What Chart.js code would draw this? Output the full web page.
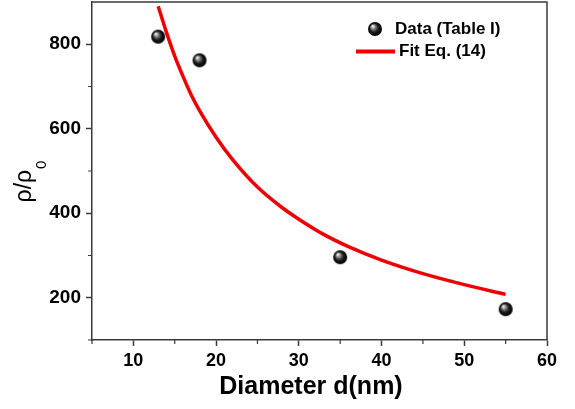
<!DOCTYPE html>
<html lang="en">
<head>
  <meta charset="UTF-8" />
  <title>Resistivity ratio vs diameter</title>
  <script src="https://cdn.jsdelivr.net/npm/chart.js"></script>
  <style>
    html, body {
      margin: 0;
      padding: 0;
      background: #ffffff;
    }
    canvas {
      display: block;
    }
  </style>
</head>
<body>
  <canvas id="fitChart" width="575" height="409"></canvas>

  <script>
    // measured points (Table I)
    const dataD = [13, 18, 35, 55];
    const dataRatio = [818, 762, 296, 173];

    // fitted curve, Eq. (14)
    const fitD = [13, 14, 15, 16, 17, 18, 20, 22, 25, 28, 30, 33, 36, 40, 45, 50, 55];
    const fitRatio = [890, 828, 772, 724, 680, 643, 580, 527, 462, 413, 386, 350, 321, 289, 257, 231, 208];

    const xTicks = [10, 20, 30, 40, 50, 60];
    const yTicks = [200, 400, 600, 800];

    const FONT = '"Liberation Sans", Arial, sans-serif';
    const AXIS = '#3a3a3a';

    // shaded black ball used for the data markers
    function makeBall(r) {
      const c = document.createElement('canvas');
      c.width = c.height = r * 2 + 2;
      const g = c.getContext('2d');
      const cx = r + 1, cy = r + 1;
      const grad = g.createRadialGradient(cx - r * 0.35, cy - r * 0.4, 0.5, cx, cy, r);
      grad.addColorStop(0, '#f4f4f4');
      grad.addColorStop(0.25, '#8a8a8a');
      grad.addColorStop(0.6, '#1a1a1a');
      grad.addColorStop(1, '#000000');
      g.fillStyle = grad;
      g.beginPath();
      g.arc(cx, cy, r, 0, Math.PI * 2);
      g.fill();
      return c;
    }
    const ball = makeBall(7);

    // frame, minor ticks, axis titles and legend
    const decorations = {
      id: 'decorations',
      afterDraw(chart) {
        const { ctx, chartArea: a, scales: { x, y } } = chart;
        ctx.save();
        ctx.strokeStyle = AXIS;
        ctx.lineWidth = 1.5;
        ctx.beginPath();
        ctx.moveTo(a.left, a.top);
        ctx.lineTo(a.right, a.top);
        ctx.lineTo(a.right, a.bottom);
        ctx.stroke();

        // minor ticks
        ctx.lineWidth = 1.2;
        ctx.beginPath();
        for (let v = 5; v <= 55; v += 10) {
          const px = x.getPixelForValue(v);
          ctx.moveTo(px, a.bottom);
          ctx.lineTo(px, a.bottom + 4);
        }
        for (let v = 100; v <= 700; v += 200) {
          const py = y.getPixelForValue(v);
          ctx.moveTo(a.left, py);
          ctx.lineTo(a.left - 4, py);
        }
        ctx.stroke();

        // x title
        ctx.fillStyle = '#000';
        ctx.font = 'bold 25px ' + FONT;
        ctx.textAlign = 'center';
        ctx.textBaseline = 'middle';
        ctx.fillText('Diameter d(nm)', 311, 387);

        // y title with subscript
        ctx.translate(31, 182);
        ctx.rotate(-Math.PI / 2);
        ctx.textBaseline = 'alphabetic';
        ctx.textAlign = 'left';
        ctx.font = '23px ' + FONT;
        const main = 'ρ/ρ';
        const wMain = ctx.measureText(main).width;
        ctx.font = '15px ' + FONT;
        const wSub = ctx.measureText('0').width;
        const x0 = -(wMain + wSub) / 2;
        ctx.font = '23px ' + FONT;
        ctx.fillText(main, x0, 0);
        ctx.font = '15px ' + FONT;
        ctx.fillText('0', x0 + wMain + 1, 15);
        ctx.restore();

        // legend
        ctx.save();
        ctx.drawImage(ball, 375 - 8, 29 - 8);
        ctx.strokeStyle = '#ee0000';
        ctx.lineWidth = 4;
        ctx.beginPath();
        ctx.moveTo(356, 51.5);
        ctx.lineTo(395, 51.5);
        ctx.stroke();
        ctx.fillStyle = '#000';
        ctx.font = 'bold 17px ' + FONT;
        ctx.textBaseline = 'middle';
        ctx.textAlign = 'left';
        ctx.fillText('Data (Table I)', 395, 29);
        ctx.fillText('Fit Eq. (14)', 399, 51);
        ctx.restore();
      }
    };

    new Chart(document.getElementById('fitChart').getContext('2d'), {
      type: 'scatter',
      data: {
        datasets: [
          {
            label: 'Fit Eq. (14)',
            data: fitD.map((d, i) => ({ x: d, y: fitRatio[i] })),
            showLine: true,
            borderColor: '#ee0000',
            borderWidth: 3.5,
            pointRadius: 0,
            cubicInterpolationMode: 'monotone',
            order: 2
          },
          {
            label: 'Data (Table I)',
            data: dataD.map((d, i) => ({ x: d, y: dataRatio[i] })),
            pointStyle: ball,
            pointRadius: 7,
            order: 1
          }
        ]
      },
      options: {
        responsive: false,
        animation: false,
        devicePixelRatio: 1,
        layout: { autoPadding: false, padding: { top: 2, right: 28, left: 0, bottom: 0 } },
        plugins: {
          legend: { display: false },
          tooltip: { enabled: false }
        },
        scales: {
          x: {
            type: 'linear',
            min: 5,
            max: 60,
            afterBuildTicks: s => { s.ticks = xTicks.map(v => ({ value: v })); },
            afterFit: s => {
              s.height = 69;
              s.paddingLeft = 0;
              s.paddingRight = 0;
            },
            ticks: {
              color: '#000',
              font: { family: FONT, size: 18, weight: 'bold' },
              padding: 4,
              maxRotation: 0
            },
            grid: {
              drawOnChartArea: false,
              tickLength: 6,
              tickWidth: 1.5,
              tickColor: AXIS
            },
            border: { color: AXIS, width: 1.5 }
          },
          y: {
            type: 'linear',
            min: 100,
            max: 900,
            afterBuildTicks: s => { s.ticks = yTicks.map(v => ({ value: v })); },
            afterFit: s => {
              s.width = 92;
              s.paddingTop = 0;
              s.paddingBottom = 0;
            },
            ticks: {
              color: '#000',
              font: { family: FONT, size: 19, weight: 'bold' },
              padding: 5
            },
            grid: {
              drawOnChartArea: false,
              tickLength: 6,
              tickWidth: 1.5,
              tickColor: AXIS
            },
            border: { color: AXIS, width: 1.5 }
          }
        }
      },
      plugins: [decorations]
    });
  </script>
</body>
</html>
